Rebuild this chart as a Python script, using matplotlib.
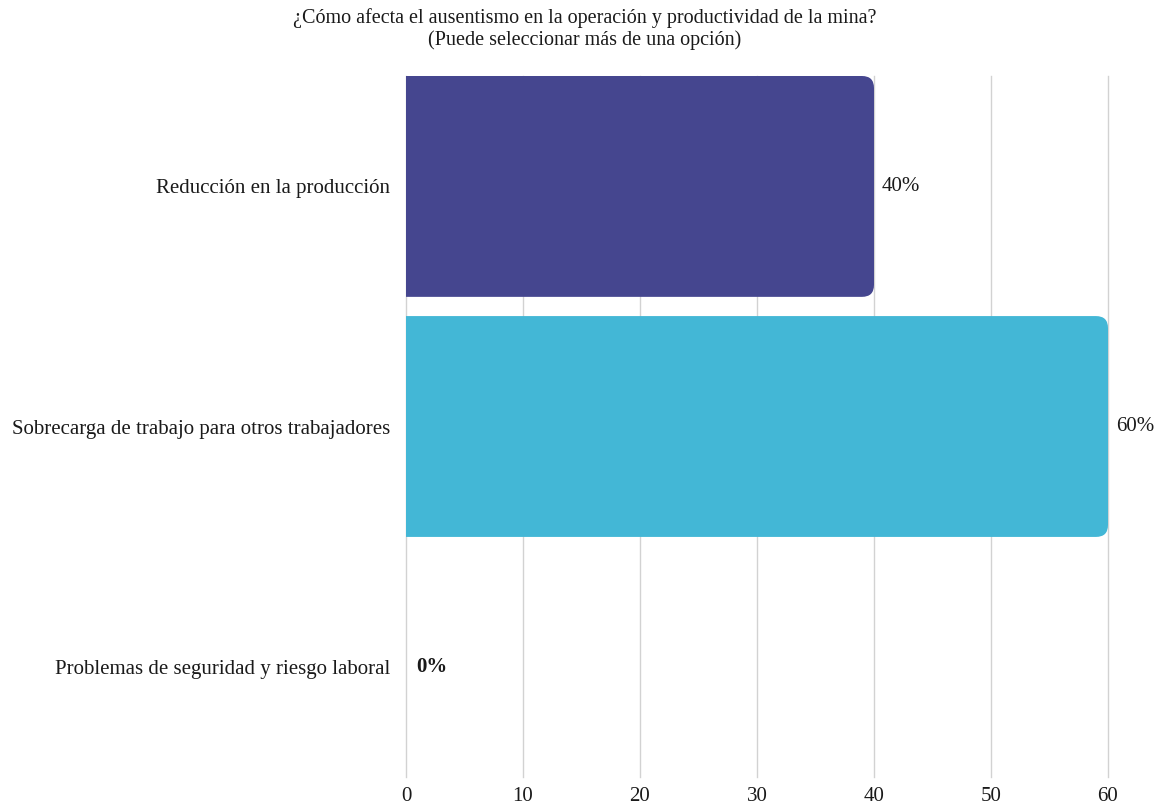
import matplotlib
matplotlib.use("Agg")
import matplotlib.pyplot as plt
from matplotlib.patches import FancyBboxPatch

plt.rcParams['font.family'] = ['Liberation Serif', 'DejaVu Serif']

categories = [
    "Reducción en la producción",
    "Sobrecarga de trabajo para otros trabajadores",
    "Problemas de seguridad y riesgo laboral",
]
values = [40, 60, 0]
colors = ["#45468f", "#43b7d6", "#8fd0b4"]
ticks = [0, 10, 20, 30, 40, 50, 60]

TXT = "#1a1a1a"
FS = 15

fig = plt.figure(figsize=(11.54, 8.05), dpi=100)
ax = fig.add_axes([406 / 1154, 1 - 777 / 805, (1108 - 406) / 1154, (777 - 76) / 805])

ax.set_xlim(0, 60)
ax.set_ylim(2.46, -0.46)

bar_h = 0.92
# pixel scale of each axis, used to keep corner radii circular
px_x = (1108 - 406) / 60.0
px_y = (777 - 76) / 2.92
radius_px = 12
r_x = radius_px / px_x
aspect = px_x / px_y

for i, (v, c) in enumerate(zip(values, colors)):
    if v <= 0:
        continue
    # start left of the axis so only the right-hand corners show rounded
    patch = FancyBboxPatch(
        (-3, i - bar_h / 2), v + 3, bar_h,
        boxstyle=f"round,pad=0,rounding_size={r_x}",
        mutation_aspect=aspect,
        facecolor=c, edgecolor="none", zorder=2, clip_on=True,
    )
    ax.add_patch(patch)

for i, v in enumerate(values):
    weight = "bold" if v == 0 else "normal"
    ax.annotate(f"{v}%", xy=(v, i), xytext=(8 if v else 10, 0),
                textcoords="offset pixels",
                va="center", ha="left", fontsize=FS, fontweight=weight,
                color=TXT, annotation_clip=False)

ax.set_xticks(ticks)
ax.set_xticklabels([str(t) for t in ticks], fontsize=FS, color=TXT)
ax.set_yticks(range(len(categories)))
ax.set_yticklabels(categories, fontsize=FS, color=TXT)
ax.tick_params(axis="both", length=0)
ax.tick_params(axis="x", pad=7)
ax.tick_params(axis="y", pad=11.5)

ax.grid(axis="x", color="#d2d2d2", linewidth=1, zorder=0)
ax.grid(axis="y", visible=False)
for gl in ax.get_xgridlines():
    gl.set_clip_on(False)
ax.set_axisbelow(True)
for s in ax.spines.values():
    s.set_visible(False)

fig.text(585 / 1154, 1 - 18 / 805,
         "¿Cómo afecta el ausentismo en la operación y productividad de la mina?",
         ha="center", va="center", fontsize=14.5, color=TXT)
fig.text(585 / 1154, 1 - 40 / 805,
         "(Puede seleccionar más de una opción)",
         ha="center", va="center", fontsize=14.5, color=TXT)

fig.savefig("out.png", dpi=100, facecolor="white")
